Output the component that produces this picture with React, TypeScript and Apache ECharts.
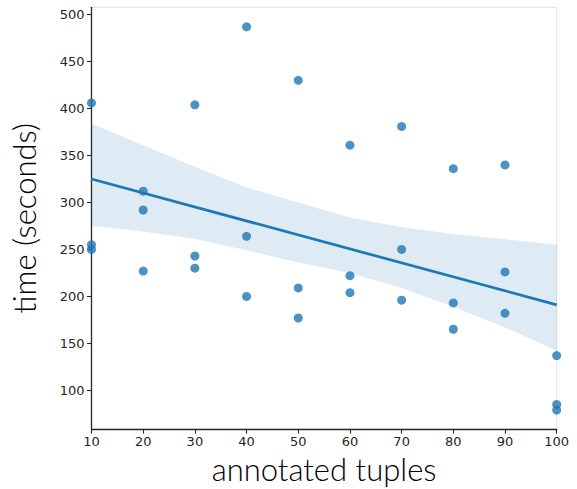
import React, { useEffect, useRef } from "react";
import * as echarts from "echarts";

const pointX = [10, 10, 10, 20, 20, 20, 30, 30, 30, 40, 40, 40, 50, 50, 50, 60, 60, 60, 70, 70, 70, 80, 80, 80, 90, 90, 90, 100, 100, 100];
const pointY = [406, 255, 250, 312, 292, 227, 404, 243, 230, 487, 264, 200, 430, 209, 177, 361, 222, 204, 381, 250, 196, 336, 193, 165, 340, 226, 182, 137, 85, 79];

const fitX = [10, 100];
const fitY = [325, 191];

const bandX = [10, 20, 30, 40, 50, 60, 70, 80, 90, 100];
const bandUpper = [384, 361, 338, 316, 300, 284, 273.5, 266.5, 261, 255];
const bandLower = [275, 269, 261, 249, 236, 225, 209, 189, 167, 142];

const yTicks = [100, 150, 200, 250, 300, 350, 400, 450, 500];
const xTicks = [10, 20, 30, 40, 50, 60, 70, 80, 90, 100];

export default function App() {
  const ref = useRef<HTMLDivElement>(null);
  useEffect(() => {
    document.body.style.margin = "0";
    const chart = echarts.init(ref.current!, null, { renderer: "svg" });
    const tickFont = { fontFamily: "DejaVu Sans", fontSize: 13, color: "#262626" };
    const nameFont = { fontFamily: "Lato", fontSize: 31, fontWeight: 300, color: "#000" };
    chart.setOption({
      animation: false,
      grid: {
        left: 91.5,
        right: 20.3,
        top: 7.3,
        bottom: 54.7,
        show: true,
        borderColor: "#e3e3e3",
        borderWidth: 1,
        backgroundColor: "transparent",
      },
      xAxis: {
        type: "value",
        min: 10,
        max: 100,
        interval: 10,
        name: "annotated tuples",
        nameLocation: "middle",
        nameGap: 21,
        nameTextStyle: nameFont,
        axisLine: { show: true, lineStyle: { color: "#262626", width: 1.3 } },
        axisTick: { show: true, length: 4.5, lineStyle: { color: "#262626", width: 1.1 }, customValues: xTicks },
        axisLabel: { ...tickFont, margin: 6, customValues: xTicks },
        splitLine: { show: false },
      },
      yAxis: {
        type: "value",
        min: 58.7,
        max: 507.8,
        name: "time (seconds)",
        nameLocation: "middle",
        nameGap: 52,
        nameTextStyle: nameFont,
        axisLine: { show: true, lineStyle: { color: "#262626", width: 1.3 } },
        axisTick: { show: true, length: 4.5, lineStyle: { color: "#262626", width: 1.1 }, customValues: yTicks },
        axisLabel: { ...tickFont, margin: 7, customValues: yTicks },
        splitLine: { show: false },
      },
      series: [
        {
          type: "custom",
          z: 1,
          silent: true,
          data: [0],
          renderItem: (params: any, api: any) => {
            const pts: number[][] = [];
            for (let i = 0; i < bandX.length; i++) pts.push(api.coord([bandX[i], bandUpper[i]]));
            for (let i = bandX.length - 1; i >= 0; i--) pts.push(api.coord([bandX[i], bandLower[i]]));
            return {
              type: "polygon",
              shape: { points: pts },
              style: { fill: "rgba(31,119,180,0.15)" },
            };
          },
        },
        {
          type: "line",
          z: 2,
          data: fitX.map((x, i) => [x, fitY[i]]),
          showSymbol: false,
          lineStyle: { color: "#1f77b4", width: 2.7 },
        },
        {
          type: "scatter",
          z: 3,
          data: pointX.map((x, i) => [x, pointY[i]]),
          symbolSize: 9,
          itemStyle: { color: "#1f77b4", opacity: 0.8 },
        },
      ],
    });
    return () => chart.dispose();
  }, []);
  return <div ref={ref} style={{ width: 577, height: 489 }} />;
}
